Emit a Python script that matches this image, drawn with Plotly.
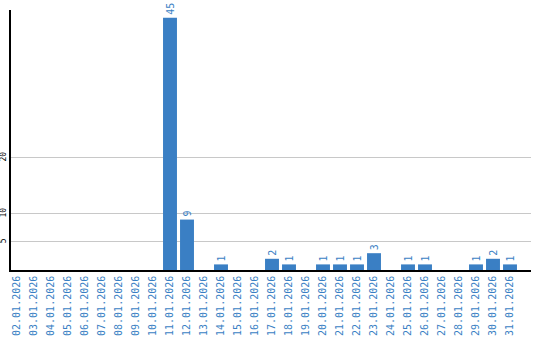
import plotly.graph_objects as go

dates = ["02.01.2026", "03.01.2026", "04.01.2026", "05.01.2026", "06.01.2026",
         "07.01.2026", "08.01.2026", "09.01.2026", "10.01.2026", "11.01.2026",
         "12.01.2026", "13.01.2026", "14.01.2026", "15.01.2026", "16.01.2026",
         "17.01.2026", "18.01.2026", "19.01.2026", "20.01.2026", "21.01.2026",
         "22.01.2026", "23.01.2026", "24.01.2026", "25.01.2026", "26.01.2026",
         "27.01.2026", "28.01.2026", "29.01.2026", "30.01.2026", "31.01.2026"]
values = [0, 0, 0, 0, 0, 0, 0, 0, 0, 45,
          9, 0, 1, 0, 0, 2, 1, 0, 1, 1,
          1, 3, 0, 1, 1, 0, 0, 1, 2, 1]
y_ticks = [5, 10, 20]

BLUE = "#3a7fc4"
labels = [str(v) if v else "" for v in values]
xs = list(range(len(dates)))

fig = go.Figure(go.Bar(
    x=xs, y=values, text=labels, textposition="outside", textangle=-90,
    constraintext="none", cliponaxis=False,
    textfont=dict(family="DejaVu Sans Mono", size=10, color=BLUE),
    marker=dict(color=BLUE, line=dict(width=0)),
))

fig.update_layout(
    width=540, height=340,
    margin=dict(l=11, r=9, t=10, b=70),
    paper_bgcolor="white", plot_bgcolor="white",
    bargap=0.18, showlegend=False,
)
fig.update_xaxes(
    range=[-0.353, 30.235], tickvals=xs, ticktext=dates, tickangle=-90,
    tickfont=dict(family="DejaVu Sans Mono", size=10, color=BLUE),
    showgrid=False, showline=True, linecolor="black", linewidth=1.5,
    ticks="", zeroline=False, automargin=False,
)
fig.update_yaxes(
    range=[0, 46.4], tickvals=y_ticks, tickangle=-90,
    tickfont=dict(family="DejaVu Sans Mono", size=8, color="black"),
    showgrid=True, gridcolor="#c8c8c8", gridwidth=1,
    showline=True, linecolor="black", linewidth=1.5,
    ticks="", zeroline=False, automargin=False,
)

fig.write_html("out.html")
